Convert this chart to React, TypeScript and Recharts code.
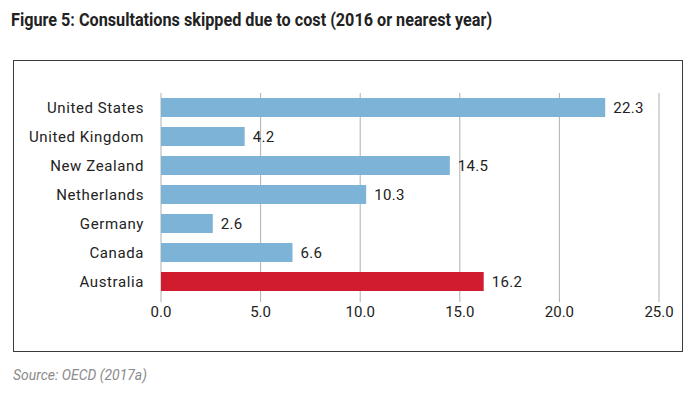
import { BarChart, Bar, XAxis, YAxis, CartesianGrid, Cell, LabelList } from "recharts";

const countries = [
  "United States",
  "United Kingdom",
  "New Zealand",
  "Netherlands",
  "Germany",
  "Canada",
  "Australia",
];
const skipped = [22.3, 4.2, 14.5, 10.3, 2.6, 6.6, 16.2];
const xTicks = [0, 5, 10, 15, 20, 25];
const highlight = "Australia";

const data = countries.map((country, i) => ({ country, value: skipped[i] }));

export default function App() {
  return (
    <div
      style={{
        position: "absolute",
        left: 0,
        top: 0,
        width: 700,
        height: 396,
        background: "#fff",
        fontFamily: "Roboto, sans-serif",
      }}
    >
      <div
        style={{
          position: "absolute",
          left: 11,
          top: 9,
          fontSize: 18,
          fontWeight: 700,
          color: "#222",
          whiteSpace: "nowrap",
          transform: "scaleX(0.9)",
          transformOrigin: "left",
        }}
      >
        Figure 5: Consultations skipped due to cost (2016 or nearest year)
      </div>
      <div
        style={{
          position: "absolute",
          left: 13,
          top: 60,
          width: 668,
          height: 290,
          border: "1.5px solid #3a3a3a",
        }}
      />
      <div style={{ position: "absolute", left: 0, top: 0 }}>
        <BarChart
          width={700}
          height={396}
          data={data}
          layout="vertical"
          barSize={19}
          margin={{ top: 93, right: 41, bottom: 70, left: 11 }}
        >
          <CartesianGrid horizontal={false} stroke="#b0b0b0" />
          <XAxis
            type="number"
            domain={[0, 25]}
            ticks={xTicks}
            tickFormatter={(v: number) => v.toFixed(1)}
            axisLine={false}
            tickLine={{ stroke: "#b0b0b0" }}
            tickSize={6}
            tickMargin={4}
            tick={{ fill: "#222", fontSize: 15 }}
            height={30}
          />
          <YAxis
            type="category"
            dataKey="country"
            width={150}
            axisLine={false}
            tickLine={false}
            tickSize={0}
            tickMargin={17}
            tick={{ fill: "#222", fontSize: 15, letterSpacing: 0.6 }}
          />
          <Bar dataKey="value" fill="#7db3d6" isAnimationActive={false}>
            {data.map((d) => (
              <Cell key={d.country} fill={d.country === highlight ? "#d11b2f" : "#7db3d6"} />
            ))}
            <LabelList
              dataKey="value"
              position="right"
              offset={8}
              formatter={(v: number) => v.toFixed(1)}
              style={{ fill: "#222", fontSize: 15, letterSpacing: 0.3 }}
            />
          </Bar>
        </BarChart>
      </div>
      <div
        style={{
          position: "absolute",
          left: 13,
          top: 366,
          fontSize: 15,
          fontStyle: "italic",
          color: "#8a8a8a",
          whiteSpace: "nowrap",
          transform: "scaleX(0.93)",
          transformOrigin: "left",
        }}
      >
        Source: OECD (2017a)
      </div>
    </div>
  );
}
